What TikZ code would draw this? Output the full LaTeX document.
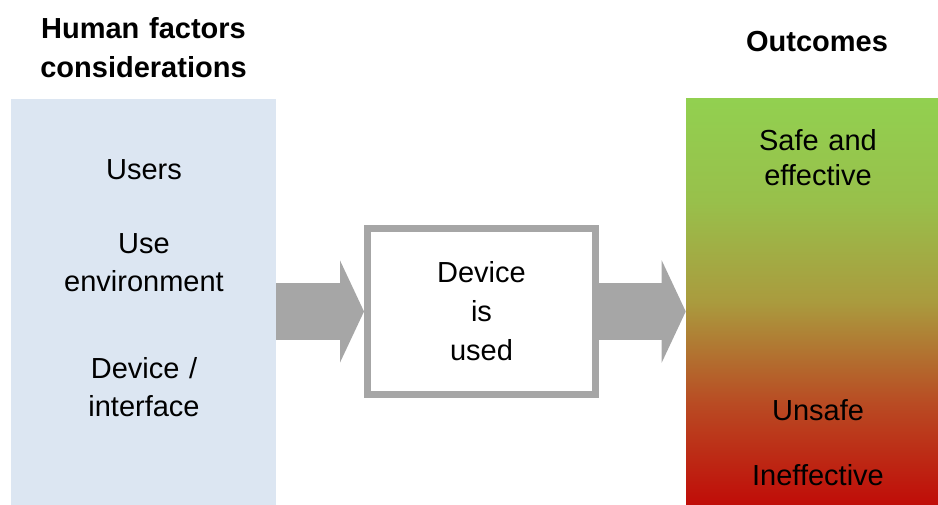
\documentclass[tikz,border=0pt]{standalone}
\usepackage{fontspec}
\setmainfont{Liberation Sans}
\usetikzlibrary{arrows.meta}

\definecolor{factorblue}{RGB}{220,230,242}
\definecolor{arrowgray}{RGB}{166,166,166}
\definecolor{safegreen}{RGB}{146,208,80}
\definecolor{midgreen}{RGB}{152,192,75}
\definecolor{midolive}{RGB}{170,155,62}
\definecolor{midorange}{RGB}{185,75,35}
\definecolor{unsafered}{RGB}{192,12,8}

% green on top, red at the bottom (the box covers 25bp--75bp)
\pgfdeclareverticalshading{outcomeshade}{100bp}{%
  color(0bp)=(unsafered); color(25bp)=(unsafered);
  color(37.5bp)=(midorange); color(50bp)=(midolive);
  color(62.5bp)=(midgreen); color(75bp)=(safegreen);
  color(100bp)=(safegreen)}

\tikzset{
  itemtext/.style={font=\fontsize{21.75}{28.1}\selectfont, align=center,
    text width=200pt, anchor=base, inner sep=0pt},
  headtext/.style={itemtext, font=\fontsize{21.75}{29.25}\selectfont\bfseries},
  factorbox/.style={fill=factorblue, inner sep=0pt,
    minimum width=198.75pt, minimum height=304.5pt},
  outcomebox/.style={shade, shading=outcomeshade, inner sep=0pt,
    minimum width=189pt, minimum height=304.5pt},
  usebox/.style={draw=arrowgray, line width=5.25pt, fill=white,
    minimum width=171pt, minimum height=124.5pt, align=center,
    font=\fontsize{21.75}{29.25}\selectfont},
  flowarrow/.style={draw=arrowgray, line width=42.75pt,
    -{Triangle[length=18pt,width=76pt]}},
}

\begin{document}
\begin{tikzpicture}[x=0.75pt, y=-0.75pt]
  \useasboundingbox (0,0) rectangle (938,505);

  % column headings
  \node[headtext] (factorhead) at (143.5,39) {Human factors\\considerations};
  \node[headtext] (outcomehead) at (817,52) {Outcomes};

  % the three boxes
  \node[factorbox] (factors) at (143.5,302) {};
  \node[usebox] (device) at (481.5,311.5) {Device\\is\\used};
  \node[outcomebox] (outcomes) at (812,302) {};

  % considerations
  \node[itemtext] (users) at (144,180) {Users};
  \node[itemtext] (environment) at (144,254) {Use\\environment};
  \node[itemtext] (interface) at (144,379) {Device /\\interface};

  % outcomes
  \node[itemtext, font=\fontsize{21.75}{26.25}\selectfont] (safe) at (818,151) {Safe and\\effective};
  \node[itemtext] (unsafe) at (818,421) {Unsafe};
  \node[itemtext] (ineffective) at (818,485) {Ineffective};

  % block arrows
  \draw[flowarrow] (factors.east |- device.west) -- (device.west);
  \draw[flowarrow] (device.east) -- (device.east -| outcomes.west);
\end{tikzpicture}
\end{document}
